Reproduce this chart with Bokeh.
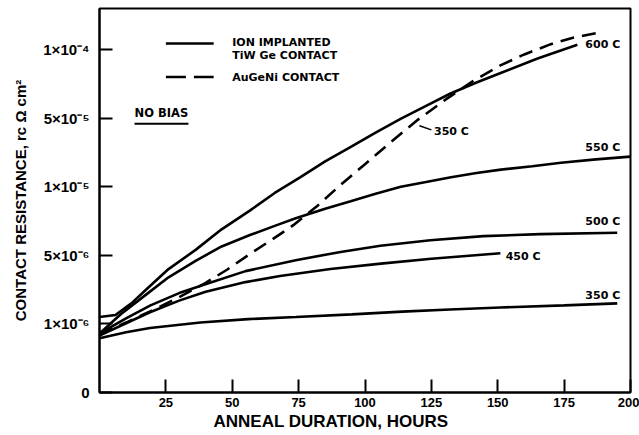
from bokeh.plotting import figure
from bokeh.models import FixedTicker, Label, Title
from bokeh.embed import file_html
from bokeh.resources import INLINE

# ---- data (y in axis-position units: 0=0, 1=1e-6, 2=5e-6, 3=1e-5, 4=5e-5, 5=1e-4)
y_tick_pos = [0, 1, 2, 3, 4, 5]
y_tick_labels = ["0", "1×10⁻⁶", "5×10⁻⁶", "1×10⁻⁵", "5×10⁻⁵", "1×10⁻⁴"]
x_ticks = [25, 50, 75, 100, 125, 150, 175, 200]

t_600 = [0, 6, 12, 17.3, 26, 36.2, 46, 56.9, 66, 75.7, 85, 94.5, 104, 113.4, 123, 132.2, 142, 151.1, 165, 180]
r_600 = [1.10, 1.13, 1.30, 1.49, 1.80, 2.08, 2.38, 2.66, 2.91, 3.14, 3.37, 3.58, 3.79, 3.99, 4.18, 4.36, 4.52, 4.66, 4.87, 5.07]

t_augeni = [0, 10, 20, 30, 40, 48, 57, 65, 73, 82, 90, 100, 110, 120, 131, 141, 151, 160, 170, 178, 187]
r_augeni = [0.85, 1.02, 1.20, 1.39, 1.60, 1.79, 2.03, 2.23, 2.44, 2.72, 3.00, 3.33, 3.66, 3.98, 4.29, 4.55, 4.77, 4.93, 5.08, 5.17, 5.24]

t_550 = [0, 8, 17.3, 26, 36.2, 46, 56.9, 66, 73.9, 85, 94.6, 104, 113.5, 123, 132.4, 142, 151.2, 163, 173.8, 187, 200]
r_550 = [0.86, 1.14, 1.42, 1.68, 1.92, 2.13, 2.30, 2.43, 2.54, 2.68, 2.79, 2.90, 3.00, 3.07, 3.14, 3.20, 3.25, 3.30, 3.35, 3.40, 3.44]

t_500 = [0, 10, 19.2, 30, 39.9, 55, 73.9, 90.8, 105.8, 124.6, 144.6, 166, 195]
r_500 = [0.86, 1.08, 1.27, 1.45, 1.58, 1.77, 1.93, 2.05, 2.14, 2.22, 2.28, 2.31, 2.33]

t_450 = [0, 10, 19, 30, 40, 55, 68, 87, 106, 125, 151]
r_450 = [0.83, 1.01, 1.17, 1.34, 1.47, 1.61, 1.70, 1.80, 1.88, 1.95, 2.03]

t_350 = [0, 10, 19, 38, 56, 74, 95, 114, 132, 151, 175, 195]
r_350 = [0.79, 0.88, 0.94, 1.02, 1.07, 1.10, 1.14, 1.18, 1.21, 1.24, 1.27, 1.30]

FONT = "Liberation Sans"
LFONT = "DejaVu Sans"

p = figure(width=639, height=432, x_range=(0, 200), y_range=(0, 5.60),
           output_backend="svg", toolbar_location=None,
           min_border_left=99, min_border_right=9, min_border_top=8, min_border_bottom=40)
p.grid.visible = False
p.outline_line_color = "black"
p.outline_line_width = 2
p.background_fill_color = "white"
p.border_fill_color = "white"

for ax in (p.xaxis[0], p.yaxis[0]):
    ax.axis_line_width = 2
    ax.major_tick_line_width = 2
    ax.major_tick_in = 13
    ax.major_tick_out = 0
    ax.minor_tick_line_color = None
    ax.major_label_text_font = FONT
    ax.major_label_text_font_style = "bold"
    ax.major_label_text_color = "black"

p.xaxis[0].ticker = FixedTicker(ticks=x_ticks)
p.xaxis[0].major_label_text_font_size = "13px"
p.xaxis[0].major_label_standoff = 5

p.yaxis[0].ticker = FixedTicker(ticks=y_tick_pos)
p.yaxis[0].major_label_overrides = {k: v for k, v in zip(y_tick_pos, y_tick_labels)}
p.yaxis[0].major_label_text_font_size = "15px"
p.yaxis[0].major_label_standoff = 10
p.yaxis[0].axis_label = "CONTACT RESISTANCE, rc Ω cm²"
p.yaxis[0].axis_label_text_font = FONT
p.yaxis[0].axis_label_text_font_style = "bold"
p.yaxis[0].axis_label_text_font_size = "15px"
p.yaxis[0].axis_label_text_color = "black"
p.yaxis[0].axis_label_standoff = 11

p.add_layout(Title(text="ANNEAL DURATION, HOURS", align="left", offset=114,
                   text_font=FONT, text_font_style="bold", text_font_size="17px",
                   text_color="black", standoff=0), "below")

LW = 2.6
p.line(t_600, r_600, line_color="black", line_width=LW)
p.line(t_550, r_550, line_color="black", line_width=LW)
p.line(t_500, r_500, line_color="black", line_width=LW)
p.line(t_450, r_450, line_color="black", line_width=LW)
p.line(t_350, r_350, line_color="black", line_width=LW)
p.line(t_augeni, r_augeni, line_color="black", line_width=LW, line_dash="14 8")

def lab(x, y, txt, size="12px", align="left", baseline="middle"):
    p.add_layout(Label(x=x, y=y, text=txt, text_font=LFONT, text_font_style="bold",
                       text_font_size=size, text_align=align, text_baseline=baseline,
                       text_color="black"))

# curve labels
lab(183, 5.07, "600 C", size="11px")
lab(183, 3.57, "550 C", size="11px")
lab(183, 2.50, "500 C", size="11px")
lab(153, 1.99, "450 C", size="11px")
lab(183, 1.42, "350 C", size="11px")
lab(126, 3.80, "350 C", size="11px")
p.segment(x0=[120.5], y0=[3.89], x1=[125], y1=[3.83], line_color="black", line_width=1.5)

# legend
p.segment(x0=[25], y0=[5.09], x1=[43], y1=[5.09], line_color="black", line_width=LW)
p.segment(x0=[25], y0=[4.60], x1=[43], y1=[4.60], line_color="black", line_width=LW, line_dash="20 8")
lab(50, 5.10, "ION IMPLANTED", size="11px")
lab(50, 4.91, "TiW Ge CONTACT", size="11px")
lab(50, 4.60, "AuGeNi CONTACT", size="11px")
lab(13.2, 4.08, "NO BIAS", size="11.5px")
p.segment(x0=[13.2], y0=[3.92], x1=[33.5], y1=[3.92], line_color="black", line_width=2)

open("out.html", "w").write(file_html(p, INLINE))
